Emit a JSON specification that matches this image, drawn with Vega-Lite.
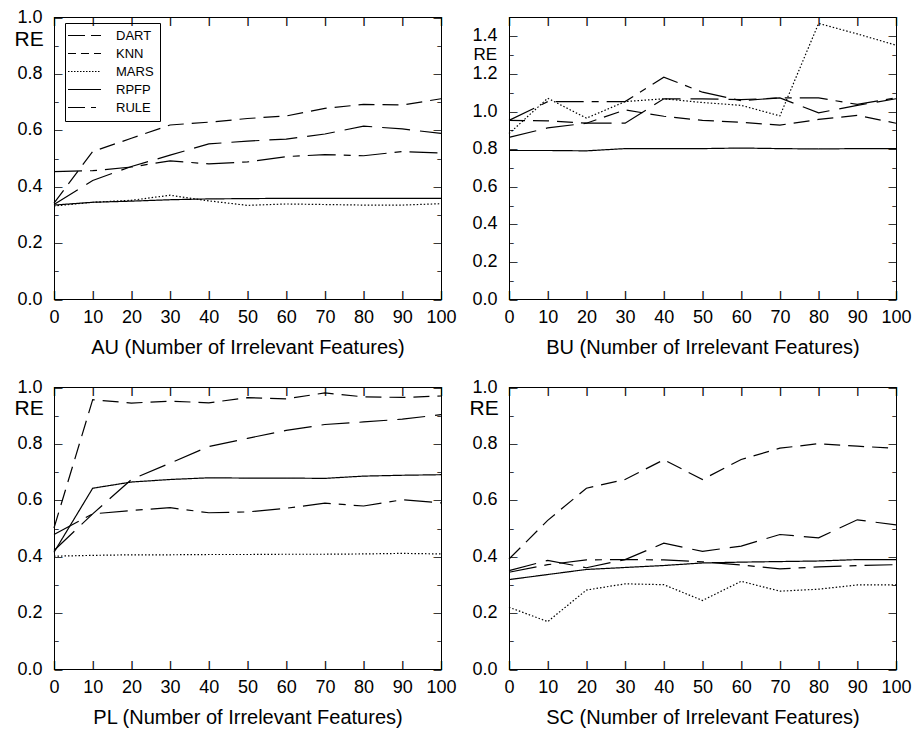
{
  "$schema": "https://vega.github.io/schema/vega-lite/v6.json",
  "background": "white",
  "padding": {"left": 13, "top": 7, "right": 0, "bottom": 0},
  "config": {
    "view": {"stroke": "black", "strokeWidth": 1},
    "axis": {
      "labelFont": "Liberation Sans",
      "labelFontSize": 18,
      "labelColor": "black",
      "titleFont": "Liberation Sans",
      "titleFontSize": 20,
      "titleFontWeight": "normal",
      "titleColor": "black",
      "domainColor": "black",
      "ticks": false,
      "grid": false,
      "labelFlush": false,
      "labelOverlap": false
    }
  },
  "datasets": {
    "AU": [
      {"method": "DART", "n": 0, "re": 0.335}, {"method": "DART", "n": 10, "re": 0.42}, {"method": "DART", "n": 20, "re": 0.47}, {"method": "DART", "n": 30, "re": 0.51}, {"method": "DART", "n": 40, "re": 0.55}, {"method": "DART", "n": 50, "re": 0.56}, {"method": "DART", "n": 60, "re": 0.567}, {"method": "DART", "n": 70, "re": 0.585}, {"method": "DART", "n": 80, "re": 0.613}, {"method": "DART", "n": 90, "re": 0.603}, {"method": "DART", "n": 100, "re": 0.587},
      {"method": "KNN", "n": 0, "re": 0.34}, {"method": "KNN", "n": 10, "re": 0.523}, {"method": "KNN", "n": 20, "re": 0.57}, {"method": "KNN", "n": 30, "re": 0.617}, {"method": "KNN", "n": 40, "re": 0.627}, {"method": "KNN", "n": 50, "re": 0.64}, {"method": "KNN", "n": 60, "re": 0.649}, {"method": "KNN", "n": 70, "re": 0.676}, {"method": "KNN", "n": 80, "re": 0.69}, {"method": "KNN", "n": 90, "re": 0.688}, {"method": "KNN", "n": 100, "re": 0.71},
      {"method": "MARS", "n": 0, "re": 0.33}, {"method": "MARS", "n": 10, "re": 0.343}, {"method": "MARS", "n": 20, "re": 0.35}, {"method": "MARS", "n": 30, "re": 0.368}, {"method": "MARS", "n": 40, "re": 0.348}, {"method": "MARS", "n": 50, "re": 0.332}, {"method": "MARS", "n": 60, "re": 0.337}, {"method": "MARS", "n": 70, "re": 0.335}, {"method": "MARS", "n": 80, "re": 0.333}, {"method": "MARS", "n": 90, "re": 0.333}, {"method": "MARS", "n": 100, "re": 0.338},
      {"method": "RPFP", "n": 0, "re": 0.333}, {"method": "RPFP", "n": 10, "re": 0.343}, {"method": "RPFP", "n": 20, "re": 0.347}, {"method": "RPFP", "n": 30, "re": 0.352}, {"method": "RPFP", "n": 40, "re": 0.355}, {"method": "RPFP", "n": 50, "re": 0.356}, {"method": "RPFP", "n": 60, "re": 0.357}, {"method": "RPFP", "n": 70, "re": 0.357}, {"method": "RPFP", "n": 80, "re": 0.357}, {"method": "RPFP", "n": 90, "re": 0.357}, {"method": "RPFP", "n": 100, "re": 0.357},
      {"method": "RULE", "n": 0, "re": 0.452}, {"method": "RULE", "n": 10, "re": 0.455}, {"method": "RULE", "n": 20, "re": 0.468}, {"method": "RULE", "n": 30, "re": 0.49}, {"method": "RULE", "n": 40, "re": 0.479}, {"method": "RULE", "n": 50, "re": 0.486}, {"method": "RULE", "n": 60, "re": 0.505}, {"method": "RULE", "n": 70, "re": 0.512}, {"method": "RULE", "n": 80, "re": 0.508}, {"method": "RULE", "n": 90, "re": 0.523}, {"method": "RULE", "n": 100, "re": 0.518}
    ],
    "BU": [
      {"method": "DART", "n": 0, "re": 0.86}, {"method": "DART", "n": 10, "re": 0.91}, {"method": "DART", "n": 20, "re": 0.935}, {"method": "DART", "n": 30, "re": 0.935}, {"method": "DART", "n": 40, "re": 1.065}, {"method": "DART", "n": 50, "re": 1.065}, {"method": "DART", "n": 60, "re": 1.06}, {"method": "DART", "n": 70, "re": 1.07}, {"method": "DART", "n": 80, "re": 0.99}, {"method": "DART", "n": 90, "re": 1.03}, {"method": "DART", "n": 100, "re": 1.065},
      {"method": "KNN", "n": 0, "re": 0.95}, {"method": "KNN", "n": 10, "re": 0.948}, {"method": "KNN", "n": 20, "re": 0.935}, {"method": "KNN", "n": 30, "re": 1.006}, {"method": "KNN", "n": 40, "re": 0.972}, {"method": "KNN", "n": 50, "re": 0.95}, {"method": "KNN", "n": 60, "re": 0.94}, {"method": "KNN", "n": 70, "re": 0.925}, {"method": "KNN", "n": 80, "re": 0.955}, {"method": "KNN", "n": 90, "re": 0.977}, {"method": "KNN", "n": 100, "re": 0.935},
      {"method": "MARS", "n": 0, "re": 0.88}, {"method": "MARS", "n": 10, "re": 1.068}, {"method": "MARS", "n": 20, "re": 0.962}, {"method": "MARS", "n": 30, "re": 1.05}, {"method": "MARS", "n": 40, "re": 1.065}, {"method": "MARS", "n": 50, "re": 1.045}, {"method": "MARS", "n": 60, "re": 1.03}, {"method": "MARS", "n": 70, "re": 0.974}, {"method": "MARS", "n": 80, "re": 1.466}, {"method": "MARS", "n": 90, "re": 1.41}, {"method": "MARS", "n": 100, "re": 1.35},
      {"method": "RPFP", "n": 0, "re": 0.79}, {"method": "RPFP", "n": 10, "re": 0.79}, {"method": "RPFP", "n": 20, "re": 0.788}, {"method": "RPFP", "n": 30, "re": 0.8}, {"method": "RPFP", "n": 40, "re": 0.8}, {"method": "RPFP", "n": 50, "re": 0.8}, {"method": "RPFP", "n": 60, "re": 0.803}, {"method": "RPFP", "n": 70, "re": 0.8}, {"method": "RPFP", "n": 80, "re": 0.798}, {"method": "RPFP", "n": 90, "re": 0.8}, {"method": "RPFP", "n": 100, "re": 0.8},
      {"method": "RULE", "n": 0, "re": 0.95}, {"method": "RULE", "n": 10, "re": 1.05}, {"method": "RULE", "n": 20, "re": 1.05}, {"method": "RULE", "n": 30, "re": 1.05}, {"method": "RULE", "n": 40, "re": 1.18}, {"method": "RULE", "n": 50, "re": 1.1}, {"method": "RULE", "n": 60, "re": 1.055}, {"method": "RULE", "n": 70, "re": 1.07}, {"method": "RULE", "n": 80, "re": 1.07}, {"method": "RULE", "n": 90, "re": 1.035}, {"method": "RULE", "n": 100, "re": 1.07}
    ],
    "PL": [
      {"method": "DART", "n": 0, "re": 0.42}, {"method": "DART", "n": 10, "re": 0.55}, {"method": "DART", "n": 20, "re": 0.672}, {"method": "DART", "n": 30, "re": 0.73}, {"method": "DART", "n": 40, "re": 0.789}, {"method": "DART", "n": 50, "re": 0.818}, {"method": "DART", "n": 60, "re": 0.846}, {"method": "DART", "n": 70, "re": 0.867}, {"method": "DART", "n": 80, "re": 0.876}, {"method": "DART", "n": 90, "re": 0.886}, {"method": "DART", "n": 100, "re": 0.902},
      {"method": "KNN", "n": 0, "re": 0.5}, {"method": "KNN", "n": 10, "re": 0.955}, {"method": "KNN", "n": 20, "re": 0.943}, {"method": "KNN", "n": 30, "re": 0.95}, {"method": "KNN", "n": 40, "re": 0.944}, {"method": "KNN", "n": 50, "re": 0.962}, {"method": "KNN", "n": 60, "re": 0.958}, {"method": "KNN", "n": 70, "re": 0.979}, {"method": "KNN", "n": 80, "re": 0.965}, {"method": "KNN", "n": 90, "re": 0.963}, {"method": "KNN", "n": 100, "re": 0.968},
      {"method": "MARS", "n": 0, "re": 0.4}, {"method": "MARS", "n": 10, "re": 0.403}, {"method": "MARS", "n": 20, "re": 0.405}, {"method": "MARS", "n": 30, "re": 0.405}, {"method": "MARS", "n": 40, "re": 0.406}, {"method": "MARS", "n": 50, "re": 0.406}, {"method": "MARS", "n": 60, "re": 0.407}, {"method": "MARS", "n": 70, "re": 0.407}, {"method": "MARS", "n": 80, "re": 0.408}, {"method": "MARS", "n": 90, "re": 0.41}, {"method": "MARS", "n": 100, "re": 0.408},
      {"method": "RPFP", "n": 0, "re": 0.414}, {"method": "RPFP", "n": 10, "re": 0.641}, {"method": "RPFP", "n": 20, "re": 0.663}, {"method": "RPFP", "n": 30, "re": 0.672}, {"method": "RPFP", "n": 40, "re": 0.678}, {"method": "RPFP", "n": 50, "re": 0.677}, {"method": "RPFP", "n": 60, "re": 0.677}, {"method": "RPFP", "n": 70, "re": 0.676}, {"method": "RPFP", "n": 80, "re": 0.684}, {"method": "RPFP", "n": 90, "re": 0.687}, {"method": "RPFP", "n": 100, "re": 0.689},
      {"method": "RULE", "n": 0, "re": 0.477}, {"method": "RULE", "n": 10, "re": 0.55}, {"method": "RULE", "n": 20, "re": 0.562}, {"method": "RULE", "n": 30, "re": 0.572}, {"method": "RULE", "n": 40, "re": 0.554}, {"method": "RULE", "n": 50, "re": 0.557}, {"method": "RULE", "n": 60, "re": 0.57}, {"method": "RULE", "n": 70, "re": 0.588}, {"method": "RULE", "n": 80, "re": 0.578}, {"method": "RULE", "n": 90, "re": 0.6}, {"method": "RULE", "n": 100, "re": 0.589}
    ],
    "SC": [
      {"method": "DART", "n": 0, "re": 0.349}, {"method": "DART", "n": 10, "re": 0.385}, {"method": "DART", "n": 20, "re": 0.359}, {"method": "DART", "n": 30, "re": 0.388}, {"method": "DART", "n": 40, "re": 0.446}, {"method": "DART", "n": 50, "re": 0.417}, {"method": "DART", "n": 60, "re": 0.436}, {"method": "DART", "n": 70, "re": 0.477}, {"method": "DART", "n": 80, "re": 0.465}, {"method": "DART", "n": 90, "re": 0.529}, {"method": "DART", "n": 100, "re": 0.511},
      {"method": "KNN", "n": 0, "re": 0.39}, {"method": "KNN", "n": 10, "re": 0.527}, {"method": "KNN", "n": 20, "re": 0.641}, {"method": "KNN", "n": 30, "re": 0.672}, {"method": "KNN", "n": 40, "re": 0.742}, {"method": "KNN", "n": 50, "re": 0.672}, {"method": "KNN", "n": 60, "re": 0.743}, {"method": "KNN", "n": 70, "re": 0.783}, {"method": "KNN", "n": 80, "re": 0.799}, {"method": "KNN", "n": 90, "re": 0.79}, {"method": "KNN", "n": 100, "re": 0.783},
      {"method": "MARS", "n": 0, "re": 0.219}, {"method": "MARS", "n": 10, "re": 0.168}, {"method": "MARS", "n": 20, "re": 0.28}, {"method": "MARS", "n": 30, "re": 0.302}, {"method": "MARS", "n": 40, "re": 0.299}, {"method": "MARS", "n": 50, "re": 0.243}, {"method": "MARS", "n": 60, "re": 0.311}, {"method": "MARS", "n": 70, "re": 0.276}, {"method": "MARS", "n": 80, "re": 0.283}, {"method": "MARS", "n": 90, "re": 0.298}, {"method": "MARS", "n": 100, "re": 0.298},
      {"method": "RPFP", "n": 0, "re": 0.317}, {"method": "RPFP", "n": 10, "re": 0.335}, {"method": "RPFP", "n": 20, "re": 0.353}, {"method": "RPFP", "n": 30, "re": 0.36}, {"method": "RPFP", "n": 40, "re": 0.367}, {"method": "RPFP", "n": 50, "re": 0.376}, {"method": "RPFP", "n": 60, "re": 0.379}, {"method": "RPFP", "n": 70, "re": 0.381}, {"method": "RPFP", "n": 80, "re": 0.383}, {"method": "RPFP", "n": 90, "re": 0.388}, {"method": "RPFP", "n": 100, "re": 0.388},
      {"method": "RULE", "n": 0, "re": 0.343}, {"method": "RULE", "n": 10, "re": 0.37}, {"method": "RULE", "n": 20, "re": 0.387}, {"method": "RULE", "n": 30, "re": 0.388}, {"method": "RULE", "n": 40, "re": 0.387}, {"method": "RULE", "n": 50, "re": 0.38}, {"method": "RULE", "n": 60, "re": 0.369}, {"method": "RULE", "n": 70, "re": 0.355}, {"method": "RULE", "n": 80, "re": 0.362}, {"method": "RULE", "n": 90, "re": 0.367}, {"method": "RULE", "n": 100, "re": 0.37}
    ]
  },
  "columns": 2,
  "spacing": {"row": 88, "column": 68},
  "bounds": "flush",
  "resolve": {"scale": {"strokeDash": "independent"}, "legend": {"strokeDash": "independent"}},
  "concat": [
    {
      "width": 387, "height": 282,
      "data": {"name": "AU"},
      "resolve": {"axis": {"x": "independent", "y": "independent"}, "scale": {"strokeDash": "independent"}, "legend": {"strokeDash": "independent"}},
      "layer": [
        {
          "mark": {"type": "line", "color": "black", "strokeWidth": 1.2},
          "encoding": {
            "x": {"field": "n", "type": "quantitative", "scale": {"domain": [0, 100], "nice": false},
              "axis": {"orient": "bottom", "values": [0, 10, 20, 30, 40, 50, 60, 70, 80, 90, 100], "labelPadding": 9, "title": "AU (Number of Irrelevant Features)", "titleY": 54, "titleBaseline": "alphabetic"}},
            "y": {"field": "re", "type": "quantitative", "scale": {"domain": [0, 1], "nice": false},
              "axis": {"orient": "left", "values": [0, 0.2, 0.4, 0.6, 0.8, 1.0], "format": ".1f", "labelPadding": 12, "title": "RE", "titleAngle": 0, "titleX": -40, "titleY": 22, "titleAlign": "left", "titleBaseline": "middle", "titleFontSize": 21}},
            "strokeDash": {"field": "method", "type": "nominal",
              "scale": {"domain": ["DART", "KNN", "MARS", "RPFP", "RULE"], "range": [[28, 10], [16, 8], [1.5, 2], [1, 0], [28, 8, 7, 8]]},
              "legend": null}
          }
        },
        {
          "transform": [{"filter": "datum.n < 0"}],
          "mark": {"type": "line", "color": "black"},
          "encoding": {
            "x": {"field": "n", "type": "quantitative", "axis": {"orient": "bottom", "values": [0, 10, 20, 30, 40, 50, 60, 70, 80, 90, 100], "domain": false, "title": null, "labelExpr": "'|'", "labelFontSize": 9, "labelFontWeight": "bold", "labelBaseline": "alphabetic", "labelAlign": "center", "labelPadding": -2}},
            "y": {"field": "re", "type": "quantitative", "axis": {"orient": "left", "values": [0, 0.1, 0.2, 0.3, 0.4, 0.5, 0.6, 0.7, 0.8, 0.9, 1.0], "domain": false, "title": null, "labelExpr": "round(datum.value*10)%2==0 ? '\u2014' : '\u2013'", "labelFontSize": 8, "labelFontWeight": "bold", "labelAlign": "left", "labelBaseline": "middle", "labelPadding": 0}}
          }
        },
        {
          "transform": [{"filter": "datum.n < 0"}],
          "mark": {"type": "line", "color": "black", "strokeWidth": 1},
          "encoding": {
            "x": {"field": "n", "type": "quantitative", "axis": {"orient": "top", "values": [0, 10, 20, 30, 40, 50, 60, 70, 80, 90, 100], "domain": false, "title": null, "labelExpr": "'|'", "labelFontSize": 9, "labelFontWeight": "bold", "labelBaseline": "alphabetic", "labelAlign": "center", "labelPadding": -6.5}},
            "y": {"field": "re", "type": "quantitative", "axis": {"orient": "right", "values": [0, 0.1, 0.2, 0.3, 0.4, 0.5, 0.6, 0.7, 0.8, 0.9, 1.0], "domain": false, "title": null, "labelExpr": "round(datum.value*10)%2==0 ? '\u2014' : '\u2013'", "labelFontSize": 8, "labelFontWeight": "bold", "labelAlign": "right", "labelBaseline": "middle", "labelPadding": 0}},
            "strokeDash": {"field": "method", "type": "nominal",
              "scale": {"domain": ["DART", "KNN", "MARS", "RPFP", "RULE"], "range": [[17, 6], [8, 5], [1.5, 1.5], [1, 0], [17, 6, 5, 6]]},
              "legend": {"orient": "none", "legendX": 11, "legendY": 6, "title": null, "symbolType": "M-3,0H3", "symbolSize": 121, "symbolOffset": 7, "labelOffset": 25, "padding": 6, "rowPadding": 4, "strokeColor": "black", "labelFont": "Liberation Sans", "labelFontSize": 13, "labelColor": "black", "symbolStrokeColor": "black", "symbolStrokeWidth": 1}}
          }
        }
      ]
    },
    {
      "width": 387, "height": 282,
      "data": {"name": "BU"},
      "resolve": {"axis": {"x": "independent", "y": "independent"}},
      "layer": [
        {
          "mark": {"type": "line", "color": "black", "strokeWidth": 1.2},
          "encoding": {
            "x": {"field": "n", "type": "quantitative", "scale": {"domain": [0, 100], "nice": false},
              "axis": {"orient": "bottom", "values": [0, 10, 20, 30, 40, 50, 60, 70, 80, 90, 100], "labelPadding": 9, "title": "BU (Number of Irrelevant Features)", "titleY": 54, "titleBaseline": "alphabetic"}},
            "y": {"field": "re", "type": "quantitative", "scale": {"domain": [0, 1.5], "nice": false},
              "axis": {"orient": "left", "values": [0, 0.2, 0.4, 0.6, 0.8, 1.0, 1.2, 1.4], "format": ".1f", "labelPadding": 12, "title": "RE", "titleAngle": 0, "titleX": -36, "titleY": 37.5, "titleAlign": "left", "titleBaseline": "middle", "titleFontSize": 17}},
            "strokeDash": {"field": "method", "type": "nominal",
              "scale": {"domain": ["DART", "KNN", "MARS", "RPFP", "RULE"], "range": [[28, 10], [16, 8], [1.5, 2], [1, 0], [28, 8, 7, 8]]},
              "legend": null}
          }
        },
        {
          "transform": [{"filter": "datum.n < 0"}],
          "mark": {"type": "line", "color": "black"},
          "encoding": {
            "x": {"field": "n", "type": "quantitative", "axis": {"orient": "bottom", "values": [0, 10, 20, 30, 40, 50, 60, 70, 80, 90, 100], "domain": false, "title": null, "labelExpr": "'|'", "labelFontSize": 9, "labelFontWeight": "bold", "labelBaseline": "alphabetic", "labelAlign": "center", "labelPadding": -2}},
            "y": {"field": "re", "type": "quantitative", "axis": {"orient": "left", "values": [0, 0.1, 0.2, 0.3, 0.4, 0.5, 0.6, 0.7, 0.8, 0.9, 1.0, 1.1, 1.2, 1.3, 1.4], "domain": false, "title": null, "labelExpr": "round(datum.value*10)%2==0 ? '\u2014' : '\u2013'", "labelFontSize": 8, "labelFontWeight": "bold", "labelAlign": "left", "labelBaseline": "middle", "labelPadding": 0}}
          }
        },
        {
          "transform": [{"filter": "datum.n < 0"}],
          "mark": {"type": "line", "color": "black"},
          "encoding": {
            "x": {"field": "n", "type": "quantitative", "axis": {"orient": "top", "values": [0, 10, 20, 30, 40, 50, 60, 70, 80, 90, 100], "domain": false, "title": null, "labelExpr": "'|'", "labelFontSize": 9, "labelFontWeight": "bold", "labelBaseline": "alphabetic", "labelAlign": "center", "labelPadding": -6.5}},
            "y": {"field": "re", "type": "quantitative", "axis": {"orient": "right", "values": [0, 0.1, 0.2, 0.3, 0.4, 0.5, 0.6, 0.7, 0.8, 0.9, 1.0, 1.1, 1.2, 1.3, 1.4], "domain": false, "title": null, "labelExpr": "round(datum.value*10)%2==0 ? '\u2014' : '\u2013'", "labelFontSize": 8, "labelFontWeight": "bold", "labelAlign": "right", "labelBaseline": "middle", "labelPadding": 0}}
          }
        }
      ]
    },
    {
      "width": 387, "height": 282,
      "data": {"name": "PL"},
      "resolve": {"axis": {"x": "independent", "y": "independent"}},
      "layer": [
        {
          "mark": {"type": "line", "color": "black", "strokeWidth": 1.2},
          "encoding": {
            "x": {"field": "n", "type": "quantitative", "scale": {"domain": [0, 100], "nice": false},
              "axis": {"orient": "bottom", "values": [0, 10, 20, 30, 40, 50, 60, 70, 80, 90, 100], "labelPadding": 9, "title": "PL (Number of Irrelevant Features)", "titleY": 54, "titleBaseline": "alphabetic"}},
            "y": {"field": "re", "type": "quantitative", "scale": {"domain": [0, 1], "nice": false},
              "axis": {"orient": "left", "values": [0, 0.2, 0.4, 0.6, 0.8, 1.0], "format": ".1f", "labelPadding": 12, "title": "RE", "titleAngle": 0, "titleX": -40, "titleY": 21, "titleAlign": "left", "titleBaseline": "middle", "titleFontSize": 21}},
            "strokeDash": {"field": "method", "type": "nominal",
              "scale": {"domain": ["DART", "KNN", "MARS", "RPFP", "RULE"], "range": [[28, 10], [16, 8], [1.5, 2], [1, 0], [28, 8, 7, 8]]},
              "legend": null}
          }
        },
        {
          "transform": [{"filter": "datum.n < 0"}],
          "mark": {"type": "line", "color": "black"},
          "encoding": {
            "x": {"field": "n", "type": "quantitative", "axis": {"orient": "bottom", "values": [0, 10, 20, 30, 40, 50, 60, 70, 80, 90, 100], "domain": false, "title": null, "labelExpr": "'|'", "labelFontSize": 9, "labelFontWeight": "bold", "labelBaseline": "alphabetic", "labelAlign": "center", "labelPadding": -2}},
            "y": {"field": "re", "type": "quantitative", "axis": {"orient": "left", "values": [0, 0.1, 0.2, 0.3, 0.4, 0.5, 0.6, 0.7, 0.8, 0.9, 1.0], "domain": false, "title": null, "labelExpr": "round(datum.value*10)%2==0 ? '\u2014' : '\u2013'", "labelFontSize": 8, "labelFontWeight": "bold", "labelAlign": "left", "labelBaseline": "middle", "labelPadding": 0}}
          }
        },
        {
          "transform": [{"filter": "datum.n < 0"}],
          "mark": {"type": "line", "color": "black"},
          "encoding": {
            "x": {"field": "n", "type": "quantitative", "axis": {"orient": "top", "values": [0, 10, 20, 30, 40, 50, 60, 70, 80, 90, 100], "domain": false, "title": null, "labelExpr": "'|'", "labelFontSize": 9, "labelFontWeight": "bold", "labelBaseline": "alphabetic", "labelAlign": "center", "labelPadding": -6.5}},
            "y": {"field": "re", "type": "quantitative", "axis": {"orient": "right", "values": [0, 0.1, 0.2, 0.3, 0.4, 0.5, 0.6, 0.7, 0.8, 0.9, 1.0], "domain": false, "title": null, "labelExpr": "round(datum.value*10)%2==0 ? '\u2014' : '\u2013'", "labelFontSize": 8, "labelFontWeight": "bold", "labelAlign": "right", "labelBaseline": "middle", "labelPadding": 0}}
          }
        }
      ]
    },
    {
      "width": 387, "height": 282,
      "data": {"name": "SC"},
      "resolve": {"axis": {"x": "independent", "y": "independent"}},
      "layer": [
        {
          "mark": {"type": "line", "color": "black", "strokeWidth": 1.2},
          "encoding": {
            "x": {"field": "n", "type": "quantitative", "scale": {"domain": [0, 100], "nice": false},
              "axis": {"orient": "bottom", "values": [0, 10, 20, 30, 40, 50, 60, 70, 80, 90, 100], "labelPadding": 9, "title": "SC (Number of Irrelevant Features)", "titleY": 54, "titleBaseline": "alphabetic"}},
            "y": {"field": "re", "type": "quantitative", "scale": {"domain": [0, 1], "nice": false},
              "axis": {"orient": "left", "values": [0, 0.2, 0.4, 0.6, 0.8, 1.0], "format": ".1f", "labelPadding": 12, "title": "RE", "titleAngle": 0, "titleX": -40, "titleY": 21, "titleAlign": "left", "titleBaseline": "middle", "titleFontSize": 21}},
            "strokeDash": {"field": "method", "type": "nominal",
              "scale": {"domain": ["DART", "KNN", "MARS", "RPFP", "RULE"], "range": [[28, 10], [16, 8], [1.5, 2], [1, 0], [28, 8, 7, 8]]},
              "legend": null}
          }
        },
        {
          "transform": [{"filter": "datum.n < 0"}],
          "mark": {"type": "line", "color": "black"},
          "encoding": {
            "x": {"field": "n", "type": "quantitative", "axis": {"orient": "bottom", "values": [0, 10, 20, 30, 40, 50, 60, 70, 80, 90, 100], "domain": false, "title": null, "labelExpr": "'|'", "labelFontSize": 9, "labelFontWeight": "bold", "labelBaseline": "alphabetic", "labelAlign": "center", "labelPadding": -2}},
            "y": {"field": "re", "type": "quantitative", "axis": {"orient": "left", "values": [0, 0.1, 0.2, 0.3, 0.4, 0.5, 0.6, 0.7, 0.8, 0.9, 1.0], "domain": false, "title": null, "labelExpr": "round(datum.value*10)%2==0 ? '\u2014' : '\u2013'", "labelFontSize": 8, "labelFontWeight": "bold", "labelAlign": "left", "labelBaseline": "middle", "labelPadding": 0}}
          }
        },
        {
          "transform": [{"filter": "datum.n < 0"}],
          "mark": {"type": "line", "color": "black"},
          "encoding": {
            "x": {"field": "n", "type": "quantitative", "axis": {"orient": "top", "values": [0, 10, 20, 30, 40, 50, 60, 70, 80, 90, 100], "domain": false, "title": null, "labelExpr": "'|'", "labelFontSize": 9, "labelFontWeight": "bold", "labelBaseline": "alphabetic", "labelAlign": "center", "labelPadding": -6.5}},
            "y": {"field": "re", "type": "quantitative", "axis": {"orient": "right", "values": [0, 0.1, 0.2, 0.3, 0.4, 0.5, 0.6, 0.7, 0.8, 0.9, 1.0], "domain": false, "title": null, "labelExpr": "round(datum.value*10)%2==0 ? '\u2014' : '\u2013'", "labelFontSize": 8, "labelFontWeight": "bold", "labelAlign": "right", "labelBaseline": "middle", "labelPadding": 0}}
          }
        }
      ]
    }
  ]
}
